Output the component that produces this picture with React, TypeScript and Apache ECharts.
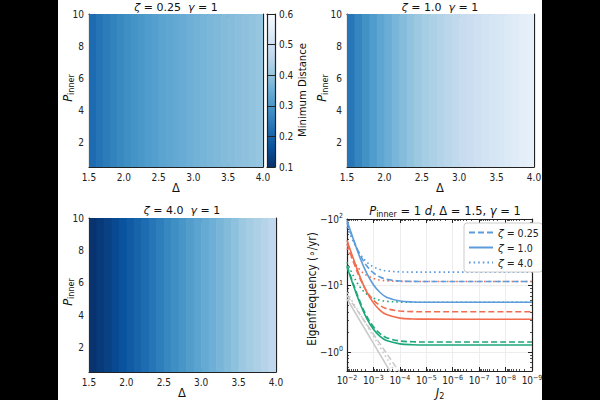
import React, { useEffect, useRef } from "react";
import * as echarts from "echarts";

// ---------------- data ----------------
const DELTA_EDGES = [1.5, 1.6, 1.7, 1.8, 1.9, 2.0, 2.1, 2.2, 2.3, 2.4, 2.5, 2.6, 2.7, 2.8, 2.9, 3.0, 3.1, 3.2, 3.3, 3.4, 3.5, 3.6, 3.7, 3.8, 3.9, 4.0];
const MIN_DIST_Z025 = [0.215, 0.23, 0.245, 0.258, 0.27, 0.281, 0.291, 0.3, 0.309, 0.317, 0.325, 0.332, 0.339, 0.346, 0.352, 0.358, 0.364, 0.369, 0.374, 0.379, 0.384, 0.389, 0.393, 0.397, 0.401];
const MIN_DIST_Z1 = [0.235, 0.262, 0.287, 0.309, 0.33, 0.349, 0.366, 0.382, 0.396, 0.41, 0.423, 0.435, 0.446, 0.457, 0.467, 0.477, 0.487, 0.496, 0.505, 0.514, 0.523, 0.532, 0.541, 0.55, 0.558];
const MIN_DIST_Z4 = [0.105, 0.118, 0.132, 0.148, 0.165, 0.182, 0.199, 0.216, 0.233, 0.25, 0.266, 0.282, 0.297, 0.312, 0.326, 0.34, 0.353, 0.366, 0.379, 0.392, 0.41, 0.422, 0.436, 0.45, 0.465];
const P_RANGE = [0.5, 10];
const DELTA_RANGE = [1.5, 4.0];
const DELTA_TICKS = [1.5, 2.0, 2.5, 3.0, 3.5, 4.0];
const DELTA_MINOR = [1.6, 1.7, 1.8, 1.9, 2.1, 2.2, 2.3, 2.4, 2.6, 2.7, 2.8, 2.9, 3.1, 3.2, 3.3, 3.4, 3.6, 3.7, 3.8, 3.9];
const P_TICKS = [2, 4, 6, 8, 10];
const P_MINOR = [1, 1.5, 2.5, 3, 3.5, 4.5, 5, 5.5, 6.5, 7, 7.5, 8.5, 9, 9.5];
const CBAR_RANGE = [0.1, 0.6];
const CBAR_TICKS = [0.1, 0.2, 0.3, 0.4, 0.5, 0.6];

const J2 = [1e-2, 5.6e-3, 3.2e-3, 1.8e-3, 1e-3, 5.6e-4, 3.2e-4, 1e-4, 3.2e-5, 1e-5, 1e-9];
const BLUE_DASHED = [87.5, 47.9, 28.9, 19.8, 15.5, 13.4, 12.4, 11.7, 11.55, 11.5, 11.5];
const BLUE_SOLID = [94.6, 48.2, 26.0, 15.4, 10.3, 7.85, 6.68, 5.85, 5.66, 5.61, 5.6];
const BLUE_DOTTED = [75.9, 44.6, 29.7, 22.5, 19.1, 17.4, 16.6, 16.04, 15.92, 15.9, 15.9];
const ORANGE_DASHED = [42.0, 22.2, 12.7, 8.2, 6.04, 5.0, 4.5, 4.14, 4.06, 4.04, 4.04];
const ORANGE_SOLID = [48.1, 24.6, 13.4, 8.06, 5.49, 4.25, 3.66, 3.24, 3.15, 3.13, 3.12];
const ORANGE_DOTTED = [36.0, 23.2, 17.1, 14.2, 12.8, 12.1, 11.8, 11.57, 11.52, 11.5, 11.5];
const GREEN_DASHED = [20.0, 10.3, 5.69, 3.46, 2.4, 1.89, 1.65, 1.47, 1.43, 1.42, 1.42];
const GREEN_SOLID = [19.0, 9.75, 5.33, 3.22, 2.21, 1.72, 1.49, 1.33, 1.29, 1.28, 1.28];
const GREEN_DOTTED = [22.5, 13.7, 9.47, 7.45, 6.49, 6.02, 5.8, 5.65, 5.61, 5.6, 5.6];
const GRAY_J2 = [1e-2, 1e-3, 1e-4, 1e-5];
const GRAY_DASHED = [7.1, 1.86, 0.49, 0.13];
const GRAY_SOLID = [6.3, 1.35, 0.29, 0.062];
const GRAY_DOTTED = [7.9, 1.73, 0.38, 0.083];
const J2_RANGE = [1e-9, 1e-2];
const J2_TICKS = [1e-9, 1e-8, 1e-7, 1e-6, 1e-5, 1e-4, 1e-3, 1e-2];
const FREQ_RANGE = [0.52, 100];
const FREQ_TICKS = [1, 10, 100];
const LEGEND_NAMES = ["ζ = 0.25", "ζ = 1.0", "ζ = 4.0"];

// ---------------- style ----------------
const FONT = "'DejaVu Sans Condensed', 'Liberation Sans Narrow', 'DejaVu Sans', sans-serif";
const MATH = "'DejaVu Sans', sans-serif";
const AX = "#222222";
const BLUES_R = ["#08306b", "#08519c", "#2171b5", "#4292c6", "#6baed6", "#9ecae1", "#c6dbef", "#deebf7", "#f7fbff"];
const C_BLUE = "#5d9cdc";
const C_ORANGE = "#f26c4f";
const C_GREEN = "#1ea77b";
const C_GRAY = "#cacaca";
const DASH = [6, 3];
const DOT = [1.6, 3];

const SUP: Record<string, string> = { "-": "−" };

function logMinor(lo: number, hi: number) {
  const out: number[] = [];
  for (let e = Math.floor(Math.log10(lo)); e <= Math.ceil(Math.log10(hi)); e++) {
    for (let m = 2; m <= 9; m++) {
      const v = m * Math.pow(10, e);
      if (v > lo && v < hi) out.push(v);
    }
  }
  return out;
}

type AxCfg = {
  type: "value" | "log";
  min: number;
  max: number;
  inverse?: boolean;
  major: number[];
  minor: number[];
  labelSide: string;
  fmt?: any;
  rich?: any;
  grid?: boolean;
  margin?: number;
};

function axisSet(gridIndex: number, cfg: AxCfg, sides: string[]) {
  const out: any[] = [];
  for (const side of sides) {
    for (const kind of ["major", "minor"]) {
      const isMajor = kind === "major";
      const vals = isMajor ? cfg.major : cfg.minor;
      const labelled = isMajor && side === cfg.labelSide;
      out.push({
        type: cfg.type,
        gridIndex,
        position: side,
        min: cfg.min,
        max: cfg.max,
        inverse: !!cfg.inverse,
        logBase: 10,
        axisLine: { show: isMajor, onZero: false, lineStyle: { color: AX, width: 1.2 } },
        axisTick: {
          show: vals.length > 0,
          inside: true,
          length: isMajor ? 4 : 2,
          customValues: vals.length ? vals : undefined,
          lineStyle: { color: AX, width: isMajor ? 1 : 0.8 },
        },
        axisLabel: {
          show: labelled,
          customValues: cfg.major,
          formatter: cfg.fmt,
          margin: cfg.margin ?? 4,
          color: "#222",
          fontFamily: FONT,
          fontSize: 10,
          rich: cfg.rich,
          showMinLabel: true,
          showMaxLabel: true,
          hideOverlap: false,
        },
        splitLine: { show: !!cfg.grid && labelled, lineStyle: { color: "#e8e8e8", width: 0.8 } },
        minorTick: { show: false },
        minorSplitLine: { show: false },
      });
    }
  }
  return out;
}

const GRIDS = [
  { left: 89, top: 14, width: 174, height: 153 },
  { left: 347, top: 14, width: 187, height: 153 },
  { left: 89, top: 218, width: 187, height: 154 },
  { left: 347, top: 219, width: 185, height: 152 },
  { left: 267, top: 14, width: 8, height: 153 },
];

function buildOption() {
  const xAxes: any[] = [];
  const yAxes: any[] = [];
  const xIdx: number[] = [];
  const yIdx: number[] = [];

  const deltaCfg: AxCfg = {
    type: "value", min: DELTA_RANGE[0], max: DELTA_RANGE[1], major: DELTA_TICKS, minor: DELTA_MINOR,
    labelSide: "bottom", fmt: (v: number) => v.toFixed(1), margin: 5,
  };
  const pCfg: AxCfg = {
    type: "value", min: P_RANGE[0], max: P_RANGE[1], major: P_TICKS, minor: P_MINOR,
    labelSide: "left", fmt: (v: number) => String(v), margin: 5,
  };
  for (let g = 0; g < 3; g++) {
    xIdx.push(xAxes.length);
    xAxes.push(...axisSet(g, deltaCfg, ["bottom", "top"]));
    yIdx.push(yAxes.length);
    yAxes.push(...axisSet(g, pCfg, ["left", "right"]));
  }
  const expStr = (v: number) =>
    String(Math.round(Math.log10(v))).split("").map((c) => SUP[c] || c).join("");
  const expLabel = (v: number) => "{b|10}{s|" + expStr(v) + "}";
  const negExpLabel = (v: number) => "{b|−10}{s|" + expStr(v) + "}";
  const rich = {
    b: { fontFamily: FONT, fontSize: 10, lineHeight: 13, color: "#222" },
    s: { fontFamily: FONT, fontSize: 7, lineHeight: 7, verticalAlign: "top", color: "#222" },
  };
  xIdx.push(xAxes.length);
  xAxes.push(
    ...axisSet(3, {
      type: "log", min: J2_RANGE[0], max: J2_RANGE[1], inverse: true, major: J2_TICKS,
      minor: logMinor(J2_RANGE[0], J2_RANGE[1]), labelSide: "bottom", fmt: expLabel, rich, grid: true, margin: 3,
    }, ["bottom", "top"])
  );
  yIdx.push(yAxes.length);
  yAxes.push(
    ...axisSet(3, {
      type: "log", min: FREQ_RANGE[0], max: FREQ_RANGE[1], major: FREQ_TICKS,
      minor: logMinor(FREQ_RANGE[0], FREQ_RANGE[1]), labelSide: "left", fmt: negExpLabel, rich, grid: true, margin: 4,
    }, ["left", "right"])
  );
  xIdx.push(xAxes.length);
  xAxes.push(...axisSet(4, { type: "value", min: 0, max: 1, major: [], minor: [], labelSide: "none" }, ["bottom", "top"]));
  yIdx.push(yAxes.length);
  yAxes.push(
    ...axisSet(4, {
      type: "value", min: CBAR_RANGE[0], max: CBAR_RANGE[1], major: CBAR_TICKS, minor: [],
      labelSide: "right", fmt: (v: number) => v.toFixed(1), margin: 4,
    }, ["right", "left"])
  );

  const heatSeries = [MIN_DIST_Z025, MIN_DIST_Z1, MIN_DIST_Z4].map((vals, p) => ({
    type: "custom",
    xAxisIndex: xIdx[p],
    yAxisIndex: yIdx[p],
    dimensions: ["lo", "hi", "dist"],
    encode: { x: [0, 1], y: 2 },
    clip: true,
    z: 1,
    data: vals.map((v, i) => [DELTA_EDGES[i], DELTA_EDGES[i + 1], v]),
    renderItem: (params: any, api: any) => {
      const p0 = api.coord([api.value(0), P_RANGE[1]]);
      const p1 = api.coord([api.value(1), P_RANGE[0]]);
      return {
        type: "rect",
        shape: { x: p0[0], y: p0[1], width: p1[0] - p0[0] + 0.6, height: p1[1] - p0[1] },
        style: { fill: api.visual("color") },
      };
    },
  }));

  const line = (name: string, xs: number[], ys: number[], color: string, type: any, z = 3) => ({
    type: "line",
    name,
    xAxisIndex: xIdx[3],
    yAxisIndex: yIdx[3],
    data: xs.map((x, i) => [x, ys[i]]),
    symbol: "none",
    showSymbol: false,
    smooth: 0.35,
    clip: true,
    z,
    lineStyle: { color, width: 1.6, type },
    itemStyle: { color: "rgba(0,0,0,0)" },
  });

  const lineSeries = [
    line("g-dash", GRAY_J2, GRAY_DASHED, C_GRAY, DASH, 2),
    line("g-solid", GRAY_J2, GRAY_SOLID, C_GRAY, "solid", 2),
    line("g-dot", GRAY_J2, GRAY_DOTTED, C_GRAY, DOT, 2),
    line("gr-dash", J2, GREEN_DASHED, C_GREEN, DASH),
    line("gr-solid", J2, GREEN_SOLID, C_GREEN, "solid"),
    line("gr-dot", J2, GREEN_DOTTED, C_GREEN, DOT),
    line("o-dash", J2, ORANGE_DASHED, C_ORANGE, DASH),
    line("o-solid", J2, ORANGE_SOLID, C_ORANGE, "solid"),
    line("o-dot", J2, ORANGE_DOTTED, C_ORANGE, DOT),
    line(LEGEND_NAMES[0], J2, BLUE_DASHED, C_BLUE, DASH),
    line(LEGEND_NAMES[1], J2, BLUE_SOLID, C_BLUE, "solid"),
    line(LEGEND_NAMES[2], J2, BLUE_DOTTED, C_BLUE, DOT),
  ];

  const mk = (size: number) => ({
    i: { fontFamily: MATH, fontStyle: "italic", fontSize: size, lineHeight: size + 4, fill: "#111" },
    n: { fontFamily: MATH, fontSize: size, lineHeight: size + 4, fill: "#111" },
    t: { fontFamily: FONT, fontSize: size, lineHeight: size + 4, fill: "#111" },
    sub: { fontFamily: MATH, fontSize: size * 0.7, lineHeight: size * 0.7, verticalAlign: "bottom", fill: "#111" },
  });
  const titleRich = mk(11);
  const labRich = mk(11.5);
  const text = (x: number, y: number, t: string, rich: any, rot = 0) => ({
    type: "text",
    x,
    y,
    rotation: rot,
    z: 50,
    style: { text: t, align: "center", verticalAlign: "middle", rich, font: `11px ${MATH}`, fill: "#111" },
  });

  const graphic: any[] = [
    { type: "rect", z: 100, shape: { x: 0, y: 0, width: 58, height: 400 }, style: { fill: "#000" } },
    { type: "rect", z: 100, shape: { x: 542, y: 0, width: 58, height: 400 }, style: { fill: "#000" } },
    {
      type: "rect",
      z: 0,
      shape: { x: GRIDS[4].left, y: GRIDS[4].top, width: GRIDS[4].width, height: GRIDS[4].height },
      style: {
        fill: {
          type: "linear", x: 0, y: 1, x2: 0, y2: 0,
          colorStops: BLUES_R.map((c, i) => ({ offset: i / (BLUES_R.length - 1), color: c })),
        },
      },
    },
    text(176, 7, "{i|ζ}{n| = 0.25  }{i|γ}{n| = 1}", titleRich),
    text(440, 7, "{i|ζ}{n| = 1.0  }{i|γ}{n| = 1}", titleRich),
    text(182, 210, "{i|ζ}{n| = 4.0  }{i|γ}{n| = 1}", titleRich),
    text(445, 211, "{i|P}{sub|inner}{n| = 1 }{i|d}{n|, Δ = 1.5, }{i|γ}{n| = 1}", mk(11.5)),
    text(176, 188, "{n|Δ}", labRich),
    text(440, 188, "{n|Δ}", labRich),
    text(182, 393, "{n|Δ}", labRich),
    text(440, 393, "{i|J}{sub|2}", labRich),
    text(68, 88, "{i|P}{sub|inner}", labRich, Math.PI / 2),
    text(322, 88, "{i|P}{sub|inner}", labRich, Math.PI / 2),
    text(68, 292, "{i|P}{sub|inner}", labRich, Math.PI / 2),
    text(302, 90, "{t|Minimum Distance}", mk(11.2), Math.PI / 2),
    text(312, 289, "{t|Eigenfrequency (∘/yr)}", mk(11.6), Math.PI / 2),
  ];

  return {
    animation: false,
    backgroundColor: "#ffffff",
    grid: GRIDS.map((g) => ({ ...g, containLabel: false })),
    xAxis: xAxes,
    yAxis: yAxes,
    visualMap: {
      show: false,
      type: "continuous",
      min: CBAR_RANGE[0],
      max: CBAR_RANGE[1],
      dimension: 2,
      seriesIndex: [0, 1, 2],
      inRange: { color: BLUES_R },
    },
    legend: {
      data: LEGEND_NAMES,
      orient: "vertical",
      left: 464,
      top: 223,
      itemWidth: 24,
      itemHeight: 10,
      itemGap: 4,
      padding: [4, 4, 4, 4],
      borderColor: "#cccccc",
      borderWidth: 1,
      borderRadius: 3,
      backgroundColor: "#ffffff",
      itemStyle: { opacity: 0 },
      formatter: (name: string) => "{i|ζ}{n|" + name.slice(1) + "}",
      textStyle: {
        fontFamily: FONT,
        fontSize: 10.5,
        color: "#222",
        rich: {
          i: { fontFamily: MATH, fontStyle: "italic", fontSize: 10.5, color: "#222" },
          n: { fontFamily: FONT, fontSize: 10.5, color: "#222" },
        },
      },
      z: 20,
    },
    series: [...heatSeries, ...lineSeries],
    graphic,
  };
}

export default function App() {
  const ref = useRef<HTMLDivElement>(null);
  useEffect(() => {
    document.body.style.margin = "0";
    if (!ref.current) return;
    const chart = echarts.init(ref.current, undefined, { renderer: "svg" });
    chart.setOption(buildOption() as any);
    return () => chart.dispose();
  }, []);
  return <div ref={ref} style={{ width: 600, height: 400 }} />;
}
